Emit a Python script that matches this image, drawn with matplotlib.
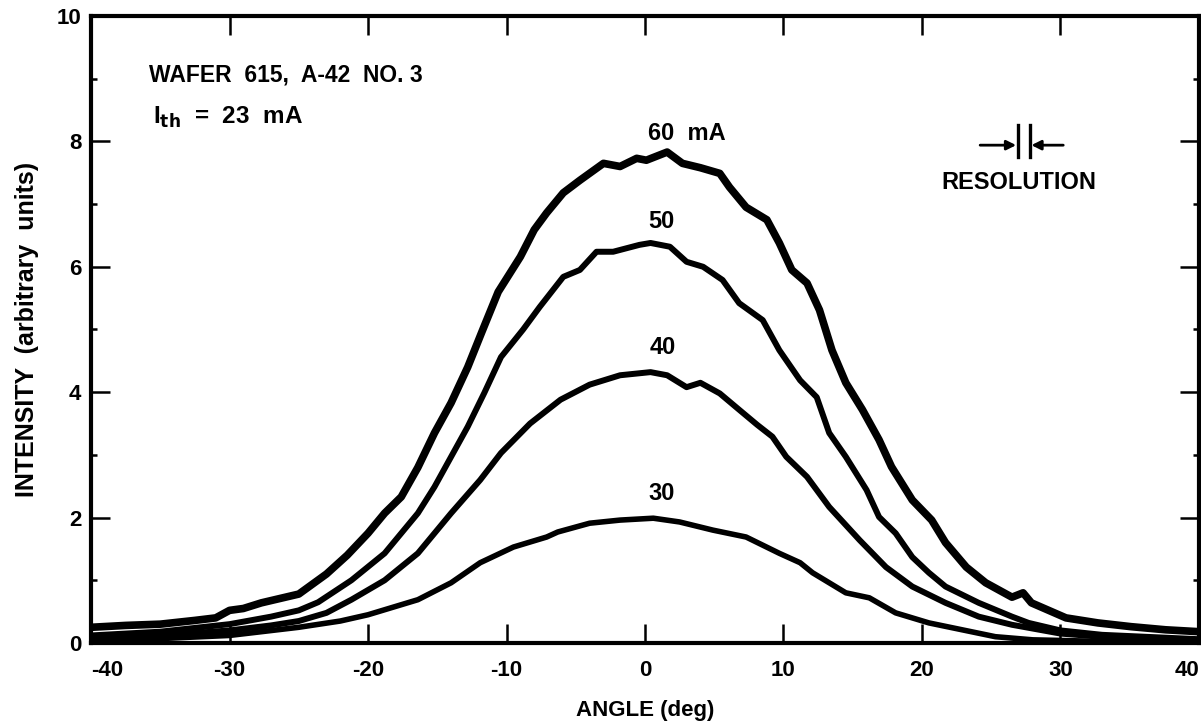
import matplotlib
matplotlib.use("Agg")
import matplotlib.pyplot as plt
from matplotlib.ticker import MultipleLocator

plt.rcParams['font.family'] = ['Liberation Sans', 'DejaVu Sans']
plt.rcParams['font.weight'] = 'bold'

# far-field intensity vs angle
x60 = [-40, -37.5, -35, -32.5, -31, -30, -29, -27.7, -25, -23, -21.5, -20, -18.8, -17.6,
       -16.4, -15.2, -14, -12.8, -11.8, -10.6, -9, -8, -7.1, -5.9, -4.7, -3, -1.8, -0.6,
       0.1, 1.6, 2.7, 4.0, 5.4, 6.1, 7.3, 8.8, 9.7, 10.6, 11.7, 12.6, 13.5, 14.5, 15.7,
       16.9, 17.8, 19.3, 20.7, 21.7, 23.2, 24.6, 26.5, 27.3, 27.9, 30.4, 32.7, 35.1, 37.6, 40]
y60 = [0.25, 0.28, 0.3, 0.36, 0.4, 0.52, 0.55, 0.64, 0.78, 1.1, 1.4, 1.75, 2.07, 2.33,
       2.8, 3.35, 3.83, 4.4, 4.95, 5.6, 6.16, 6.59, 6.86, 7.18, 7.38, 7.65, 7.6, 7.73,
       7.7, 7.83, 7.65, 7.58, 7.49, 7.27, 6.95, 6.75, 6.38, 5.95, 5.74, 5.31, 4.67, 4.15, 3.72,
       3.24, 2.81, 2.28, 1.96, 1.6, 1.21, 0.96, 0.73, 0.8, 0.64, 0.4, 0.32, 0.26, 0.21, 0.18]

x50 = [-40, -35, -30, -27, -25, -23.6, -21.2, -18.8, -17.6, -16.4, -15.2, -14, -12.8,
       -11.6, -10.4, -8.8, -7.6, -5.9, -4.7, -3.5, -2.3, -0.4, 0.4, 1.8, 3.0, 4.2, 5.6,
       6.8, 8.5, 9.7, 11.2, 12.4, 13.3, 14.5, 16, 16.9, 18.1, 19.3, 20.5, 21.7, 24.1,
       26.5, 27.7, 30, 33, 36, 40]
y50 = [0.12, 0.18, 0.3, 0.42, 0.52, 0.65, 1.0, 1.43, 1.75, 2.07, 2.49, 2.97, 3.45,
       3.99, 4.56, 5.0, 5.36, 5.84, 5.95, 6.24, 6.24, 6.35, 6.38, 6.32, 6.08, 6.0, 5.79,
       5.42, 5.15, 4.67, 4.19, 3.92, 3.35, 2.97, 2.44, 2.01, 1.75, 1.37, 1.12, 0.9, 0.64,
       0.42, 0.32, 0.2, 0.13, 0.1, 0.06]

x40 = [-40, -35, -30, -27, -25, -23, -21.2, -18.8, -16.4, -14, -11.9, -10.4, -8.3, -6.1,
       -4, -1.8, 0.4, 1.6, 3.0, 4.0, 5.4, 6.8, 8.1, 9.2, 10.2, 11.7, 13.3, 15.5, 17.4,
       19.3, 21.7, 24.1, 26.5, 30, 34, 40]
y40 = [0.08, 0.12, 0.2, 0.28, 0.35, 0.48, 0.69, 1.0, 1.43, 2.07, 2.6, 3.03, 3.5, 3.88,
       4.12, 4.27, 4.32, 4.27, 4.08, 4.15, 3.98, 3.72, 3.48, 3.29, 2.97, 2.65, 2.17, 1.64,
       1.21, 0.9, 0.64, 0.42, 0.29, 0.15, 0.08, 0.04]

x30 = [-40, -35, -30, -25, -22, -20, -16.4, -14, -11.9, -9.5, -7.1, -6.3, -4, -1.8, 0.6,
       2.5, 4.9, 7.3, 9.7, 11.2, 12.1, 14.5, 16.2, 18.1, 20.5, 22.9, 25.3, 28, 32, 40]
y30 = [0.04, 0.07, 0.12, 0.25, 0.35, 0.45, 0.69, 0.96, 1.28, 1.53, 1.69, 1.77, 1.91, 1.96,
       1.99, 1.93, 1.8, 1.69, 1.43, 1.28, 1.12, 0.8, 0.72, 0.48, 0.32, 0.21, 0.1, 0.05, 0.03, 0.02]

xticks = [-40, -30, -20, -10, 0, 10, 20, 30, 40]
xtick_labels = ['-40', '-30', '-20', '-10', '0', '10', '20', '30', '40']

curves = [(x60, y60, 5.5), (x50, y50, 4.3), (x40, y40, 4.3), (x30, y30, 4.0)]
curve_labels = ['60  mA', '50', '40', '30']
label_pos = [(3.0, 8.12), (1.15, 6.72), (1.3, 4.72), (1.2, 2.38)]

fig = plt.figure(figsize=(12.01, 7.28), dpi=100)
ax = fig.add_axes([0.0758, 0.1168, 0.9225, 0.8612])

for xs, ys, lw in curves:
    ax.plot(xs, ys, color='black', lw=lw, solid_joinstyle='round', solid_capstyle='round')

for txt, (lx, ly) in zip(curve_labels, label_pos):
    ax.text(lx, ly, txt, ha='center', va='center', fontsize=17, fontweight='bold')

ax.text(-35.8, 9.06, 'WAFER  615,  A-42  NO. 3', ha='left', va='center',
        fontsize=16.5, fontweight='bold')
ax.text(-35.5, 8.39, r'I$_{\mathbf{th}}$  =  23  mA', ha='left', va='center',
        fontsize=17.5, fontweight='bold')

# resolution marker
res_left, res_right, res_y = 26.9, 27.8, 7.94
ax.plot([res_left, res_left], [7.75, 8.26], color='black', lw=2.4)
ax.plot([res_right, res_right], [7.75, 8.26], color='black', lw=2.4)
ax.annotate('', xy=(res_left - 0.1, res_y), xytext=(24.2, res_y),
            arrowprops=dict(arrowstyle='-|>', color='black', lw=2, mutation_scale=14,
                            shrinkA=0, shrinkB=0))
ax.annotate('', xy=(res_right + 0.1, res_y), xytext=(30.2, res_y),
            arrowprops=dict(arrowstyle='-|>', color='black', lw=2, mutation_scale=14,
                            shrinkA=0, shrinkB=0))
ax.text(27.0, 7.34, 'RESOLUTION', ha='center', va='center', fontsize=17, fontweight='bold')

ax.set_xticks(xticks)
ax.set_xticklabels(xtick_labels)
ax.set_xlim(-40, 40)
ax.set_ylim(0, 10)
ax.yaxis.set_major_locator(MultipleLocator(2))
ax.yaxis.set_minor_locator(MultipleLocator(1))
ax.tick_params(which='major', direction='in', length=14, width=1.8, top=True, right=True,
               labelsize=16)
ax.tick_params(axis='x', which='major', pad=12)
ax.tick_params(axis='y', which='major', pad=7)
ax.tick_params(axis='y', which='minor', direction='in', length=4.5, width=1.8, left=True, right=True)
xlabs = ax.get_xticklabels()
xlabs[0].set_ha('left')
xlabs[-1].set_ha('right')
for lab in ax.get_xticklabels() + ax.get_yticklabels():
    lab.set_fontweight('bold')
for s in ax.spines.values():
    s.set_linewidth(3)

ax.set_xlabel('ANGLE (deg)', fontsize=16, fontweight='bold', labelpad=14)
ax.set_ylabel('INTENSITY  (arbitrary  units)', fontsize=18, fontweight='bold', labelpad=13)

fig.savefig('out.png', dpi=100)
